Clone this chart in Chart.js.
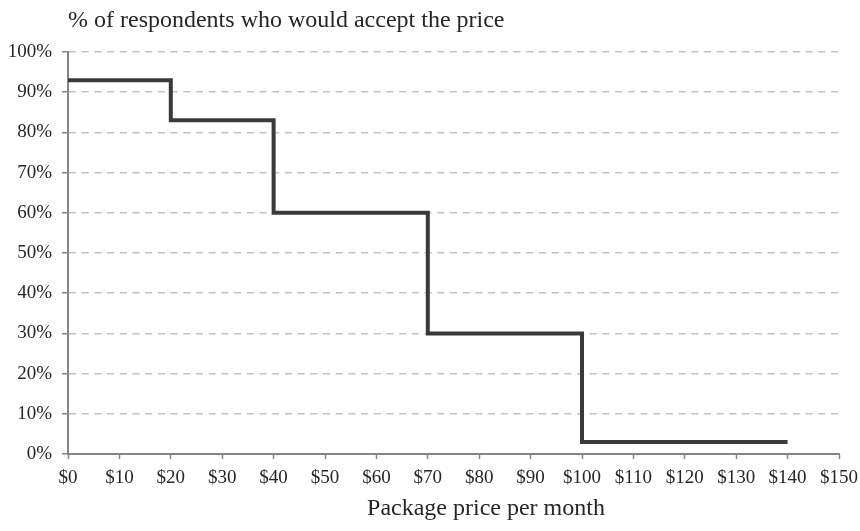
<!DOCTYPE html>
<html>
<head>
<meta charset="utf-8">
<title>Price acceptance</title>
<script src="https://cdn.jsdelivr.net/npm/chart.js@4"></script>
<style>
  html, body { margin: 0; padding: 0; background: #ffffff; }
  #wrap { width: 860px; height: 531px; }
</style>
</head>
<body>
<div id="wrap"><canvas id="c" width="860" height="531"></canvas></div>
<script>
// Monthly package price at which the acceptance level changes
const prices = [0, 20, 40, 70, 100, 140];
// Share of respondents (%) who would accept each price
const acceptShare = [93, 83, 60, 30, 3, 3];
// Axis tick values
const xTickValues = [0, 10, 20, 30, 40, 50, 60, 70, 80, 90, 100, 110, 120, 130, 140, 150];
const yTickValues = [0, 10, 20, 30, 40, 50, 60, 70, 80, 90, 100];

const chartTitle = '% of respondents who would accept the price';
const xAxisTitle = 'Package price per month';

const SERIF = '"Liberation Serif", "Times New Roman", serif';
const TEXT = '#262626';

// Draws the chart heading and the horizontal axis caption
const captions = {
  id: 'captions',
  afterDraw(chart) {
    const { ctx, chartArea } = chart;
    ctx.save();
    ctx.fillStyle = TEXT;
    ctx.font = '24px ' + SERIF;
    ctx.textAlign = 'left';
    ctx.textBaseline = 'alphabetic';
    ctx.fillText(chartTitle, chartArea.left, 27);
    ctx.textAlign = 'center';
    ctx.fillText(xAxisTitle, 486, 515);
    ctx.restore();
  }
};

new Chart(document.getElementById('c'), {
  type: 'line',
  data: {
    datasets: [{
      data: prices.map((p, i) => ({ x: p, y: acceptShare[i] })),
      stepped: 'before',
      borderColor: '#3a3a3a',
      borderWidth: 4,
      borderCapStyle: 'butt',
      borderJoinStyle: 'miter',
      pointRadius: 0,
      fill: false
    }]
  },
  options: {
    responsive: false,
    animation: false,
    layout: { padding: { top: 52, right: 21, left: 0, bottom: 0 } },
    plugins: {
      legend: { display: false },
      tooltip: { enabled: false },
      title: { display: false }
    },
    scales: {
      x: {
        type: 'linear',
        min: xTickValues[0],
        max: xTickValues[xTickValues.length - 1],
        afterBuildTicks(scale) {
          scale.ticks = xTickValues.map(v => ({ value: v }));
        },
        afterFit(scale) {
          scale.height = 77;
          scale.paddingLeft = 0;
          scale.paddingRight = 0;
        },
        grid: {
          drawOnChartArea: false,
          drawTicks: true,
          tickLength: 5,
          tickColor: '#858585',
          tickWidth: 1.5
        },
        border: { display: true, color: '#858585', width: 2 },
        ticks: {
          color: TEXT,
          font: { family: SERIF, size: 19 },
          padding: 8,
          maxRotation: 0,
          autoSkip: false,
          callback: v => '$' + v
        }
      },
      y: {
        min: yTickValues[0],
        max: yTickValues[yTickValues.length - 1],
        afterBuildTicks(scale) {
          scale.ticks = yTickValues.map(v => ({ value: v }));
        },
        afterFit(scale) {
          scale.width = 68;
          scale.paddingTop = 0;
          scale.paddingBottom = 0;
        },
        grid: {
          color: '#c2c2c2',
          lineWidth: 1.5,
          drawTicks: true,
          tickLength: 6,
          tickColor: '#858585',
          tickWidth: 1.5,
          tickBorderDash: []
        },
        border: { display: true, color: '#858585', width: 2, dash: [7, 5.7] },
        ticks: {
          color: TEXT,
          font: { family: SERIF, size: 19 },
          padding: 10,
          autoSkip: false,
          callback: v => v + '%'
        }
      }
    }
  },
  plugins: [captions]
});
</script>
</body>
</html>
